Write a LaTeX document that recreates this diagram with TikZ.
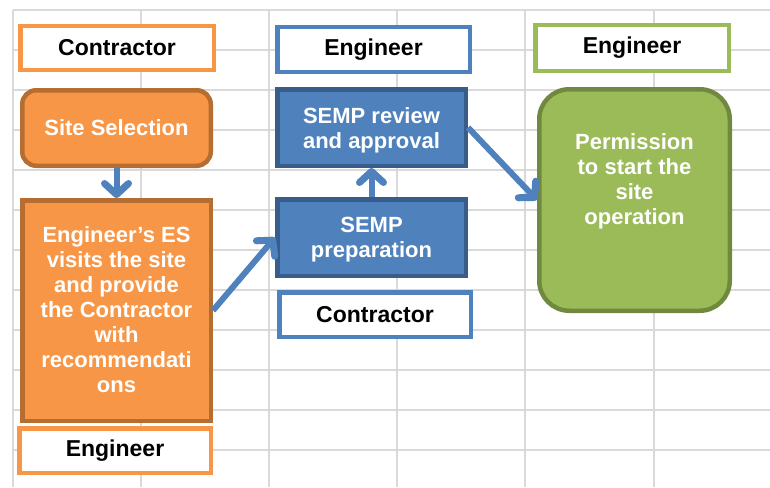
\documentclass[tikz,border=0pt]{standalone}
\usepackage{fontspec}
\setmainfont{Liberation Sans}
\usetikzlibrary{arrows.meta}
\definecolor{gridc}{HTML}{D9D9D9}
\definecolor{orfill}{HTML}{F79646}
\definecolor{ordark}{HTML}{B66D31}
\definecolor{blfill}{HTML}{4F81BD}
\definecolor{bldark}{HTML}{385D8A}
\definecolor{grfill}{HTML}{9BBB59}
\definecolor{grdark}{HTML}{71893F}
\tikzset{
  lbl/.style={draw, line width=4.5pt, fill=white, font=\fontsize{23}{25}\selectfont\bfseries, text=black, inner sep=0pt},
  shp/.style={line width=4.5pt, inner sep=0pt},
  shptext/.style={text=white, font=\fontsize{22}{25}\selectfont\bfseries, align=center, inner sep=0pt},
  conn/.style={draw=blfill, line width=6pt, -{Straight Barb[length=11pt,width=24pt,line width=7pt 0,round]}},
}
\begin{document}
\begin{tikzpicture}[x=1pt,y=-1pt]
\useasboundingbox (0,0) rectangle (770,487);
% spreadsheet grid
\foreach \x in {13,141,269,397,525,654} \draw[gridc, line width=1.5pt] (\x,10) -- (\x,487);
\foreach \y in {10,50,...,450} \draw[gridc, line width=1.5pt] (13,\y) -- (770,\y);
% column 1
\node[lbl, draw=orfill, minimum width=193.5pt, minimum height=43.5pt] (c1) at (117,48) {Contractor};
\node[shp, draw=ordark, fill=orfill, rounded corners=14pt, minimum width=188.5pt, minimum height=75.5pt] (ss) at (116.5,128) {};
\node[shptext] (sst) at (116.5,128) {Site Selection};
\node[shp, draw=ordark, fill=orfill, minimum width=188.5pt, minimum height=220.5pt] (es) at (116.5,310.5) {};
\node[shptext] (est) at (116.5,310) {Engineer's ES\\visits the site\\and provide\\the Contractor\\with\\recommendati\\ons};
\node[lbl, draw=orfill, minimum width=191.5pt, minimum height=44.5pt] (e1) at (115,450.5) {Engineer};
% column 2
\node[lbl, draw=blfill, minimum width=192.5pt, minimum height=44.5pt] (e2) at (373.5,49.5) {Engineer};
\node[shp, draw=bldark, fill=blfill, minimum width=188.5pt, minimum height=76.5pt] (rev) at (371.5,127.5) {};
\node[shptext] (revt) at (371.5,130) {SEMP review\\and approval};
\node[shp, draw=bldark, fill=blfill, minimum width=188.5pt, minimum height=76.5pt] (prep) at (371.5,237.5) {};
\node[shptext] (prept) at (371.5,240) {SEMP\\preparation};
\node[lbl, draw=blfill, minimum width=191.5pt, minimum height=44.5pt] (c2) at (375,314.5) {Contractor};
% column 3
\node[lbl, draw=grfill, minimum width=193.5pt, minimum height=45.5pt] (e3) at (632,48) {Engineer};
\node[shp, draw=grdark, fill=grfill, rounded corners=30pt, minimum width=190.5pt, minimum height=221.5pt] (perm) at (634.5,200) {};
\node[shptext, anchor=north] (permt) at (634.5,133) {Permission\\to start the\\site\\operation};
% connectors
\draw[conn] (ss.south) -- (es.north);
\draw[conn] (es.east) -- (prep.west);
\draw[conn] (prep.north) -- (rev.south);
\draw[conn] (rev.east) -- (perm.west);
\end{tikzpicture}
\end{document}
